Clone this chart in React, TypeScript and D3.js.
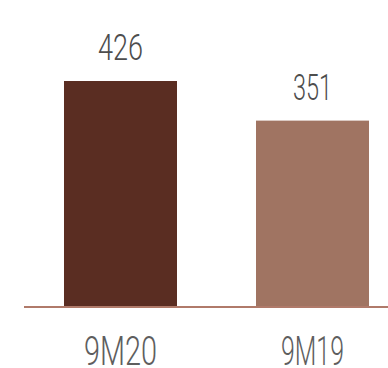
import React from "react";
import * as d3 from "d3";

const categories = ["9M20", "9M19"];
const values = [426, 351];
const colors = ["#5a2d22", "#a07462"];

const W = 388;
const H = 368;

export default function App() {
  const baseline = 306;
  const x = d3
    .scaleBand<string>()
    .domain(categories)
    .range([24, 409])
    .paddingInner(0.4115)
    .paddingOuter(0.2083);
  const y = d3.scaleLinear().domain([0, 426]).range([baseline, 81]);
  const valueWidths = [45, 39];
  const catWidths = [73, 63];
  return (
    <div style={{ position: "fixed", left: 0, top: 0 }}>
      <svg width={W} height={H} style={{ display: "block", background: "#fff" }}>
        {categories.map((c, i) => (
          <g key={c}>
            <rect
              x={x(c)}
              y={y(values[i])}
              width={x.bandwidth()}
              height={baseline - y(values[i])}
              fill={colors[i]}
            />
            <text
              x={(x(c) as number) + x.bandwidth() / 2}
              y={y(values[i]) - 21}
              textAnchor="middle"
              fontFamily="Roboto"
              fontWeight={300}
              fontSize={36}
              fill="#4d4d4d"
              textLength={valueWidths[i]}
              lengthAdjust="spacingAndGlyphs"
            >
              {values[i]}
            </text>
            <text
              x={(x(c) as number) + x.bandwidth() / 2}
              y={365}
              textAnchor="middle"
              fontFamily="Roboto"
              fontWeight={300}
              fontSize={41}
              fill="#5e5e5e"
              textLength={catWidths[i]}
              lengthAdjust="spacingAndGlyphs"
            >
              {c}
            </text>
          </g>
        ))}
        <line x1={24} x2={W} y1={baseline + 1} y2={baseline + 1} stroke="#b07a6a" strokeWidth={2} />
      </svg>
    </div>
  );
}
